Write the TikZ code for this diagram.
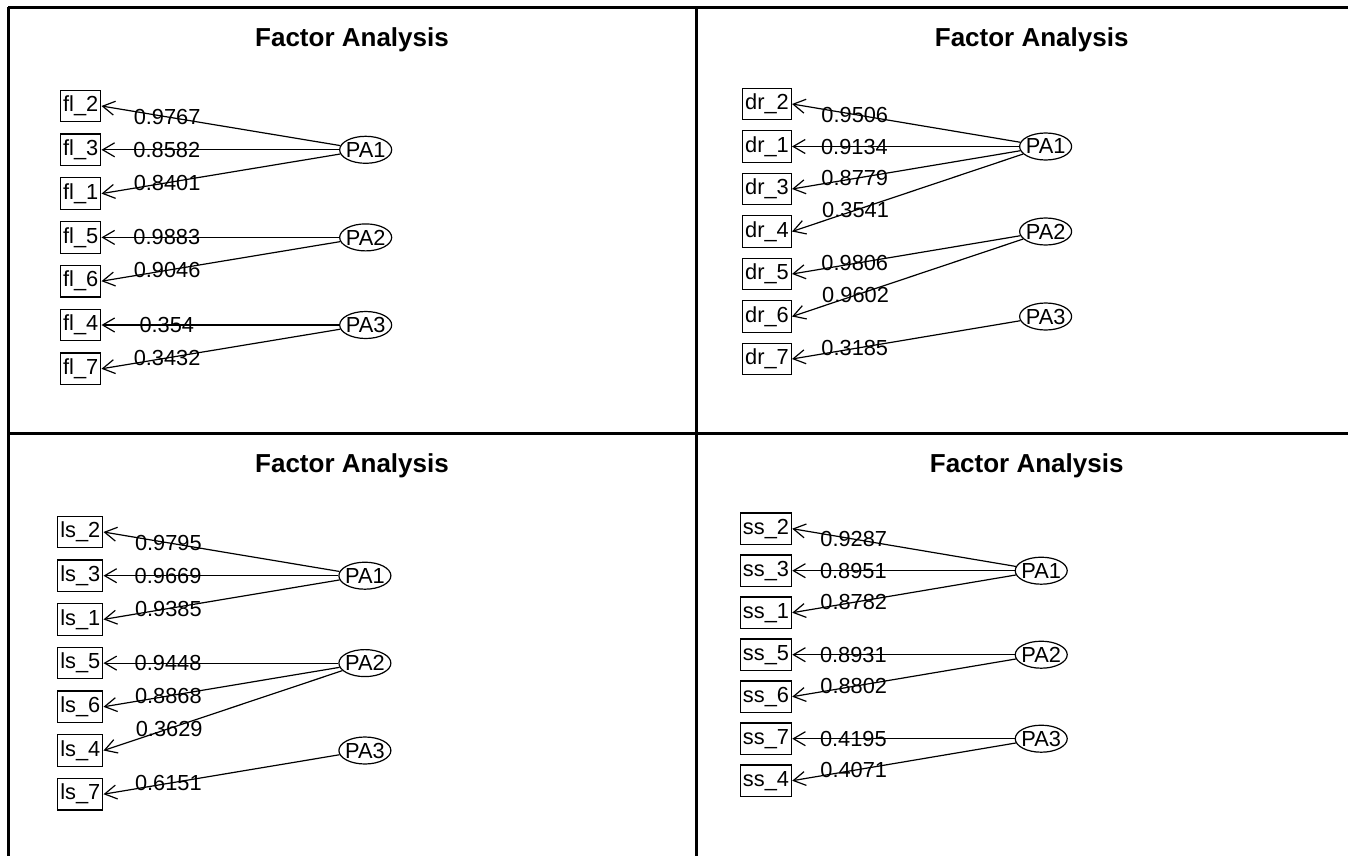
\documentclass[tikz,border=0pt]{standalone}
\usepackage{fontspec}
\setmainfont{Liberation Sans}
\usetikzlibrary{arrows.meta, positioning, shapes.geometric}
% factor labels take no width, so the ellipse keeps its own size
\newcommand{\fac}[1]{\makebox[0pt]{#1}}

\begin{document}
\begin{tikzpicture}[
  x=0.5pt, y=-0.5pt,
  font=\fontsize{10.9}{13}\selectfont,
  >={Straight Barb[length=6pt, width=7pt]},
  obs/.style={draw, line width=0.6pt, inner xsep=1.3pt, inner ysep=0pt,
              minimum height=15.75pt},
  lat/.style={ellipse, draw, line width=0.6pt, inner sep=0pt,
              minimum width=26pt, minimum height=13.5pt},
  ttl/.style={anchor=base, font=\fontsize{13}{15}\selectfont\bfseries},
  load/.style={->, line width=0.6pt},
  wt/.style={pos=.725, inner sep=0pt},
  rule/.style={line width=1.4pt}
]
\useasboundingbox (0,0) rectangle (1348,856);

% Table rules
\draw[rule] (8.3,7.3) -- (1348,7.3);
\draw[rule] (8.3,7.3) -- (8.3,856);
\draw[rule] (696.5,7.3) -- (696.5,856);
\draw[rule] (8.3,433.3) -- (1348,433.3);

% Panel: fl items
\node[ttl] (ttlfl) at (352,47) {Factor Analysis};
\node[obs] (fl2) at (80.7,106) {fl\_2};
\node[obs, below=5.55pt of fl2] (fl3) {fl\_3};
\node[obs, below=5.55pt of fl3] (fl1) {fl\_1};
\node[obs, below=5.55pt of fl1] (fl5) {fl\_5};
\node[obs, below=5.55pt of fl5] (fl6) {fl\_6};
\node[obs, below=5.55pt of fl6] (fl4) {fl\_4};
\node[obs, below=5.55pt of fl4] (fl7) {fl\_7};
\node[lat, right=118.8pt of fl3] (flpa1) {\fac{PA1}};
\node[lat, right=118.8pt of fl5] (flpa2) {\fac{PA2}};
\node[lat, right=118.8pt of fl4] (flpa3) {\fac{PA3}};
\draw[load] (flpa1) -- node[wt] {0.9767} (fl2.east);
\draw[load] (flpa1) -- node[wt] {0.8582} (fl3.east);
\draw[load] (flpa1) -- node[wt] {0.8401} (fl1.east);
\draw[load] (flpa2) -- node[wt] {0.9883} (fl5.east);
\draw[load] (flpa2) -- node[wt] {0.9046} (fl6.east);
\draw[load] (flpa3) -- node[wt] {0.354} (fl4.east);
\draw[load] (flpa3) -- node[wt] {0.3432} (fl7.east);

% Panel: dr items
\node[ttl] (ttldr) at (1031.7,47) {Factor Analysis};
\node[obs] (dr2) at (767,104) {dr\_2};
\node[obs, below=4.9pt of dr2] (dr1) {dr\_1};
\node[obs, below=4.9pt of dr1] (dr3) {dr\_3};
\node[obs, below=4.9pt of dr3] (dr4) {dr\_4};
\node[obs, below=4.9pt of dr4] (dr5) {dr\_5};
\node[obs, below=4.9pt of dr5] (dr6) {dr\_6};
\node[obs, below=4.9pt of dr6] (dr7) {dr\_7};
\node[lat, right=113.5pt of dr1] (drpa1) {\fac{PA1}};
\node[lat, right=113.5pt of dr4] (drpa2) {\fac{PA2}};
\node[lat, right=113.5pt of dr6] (drpa3) {\fac{PA3}};
\draw[load] (drpa1) -- node[wt] {0.9506} (dr2.east);
\draw[load] (drpa1) -- node[wt] {0.9134} (dr1.east);
\draw[load] (drpa1) -- node[wt] {0.8779} (dr3.east);
\draw[load] (drpa1) -- node[wt] {0.3541} (dr4.east);
\draw[load] (drpa2) -- node[wt] {0.9806} (dr5.east);
\draw[load] (drpa2) -- node[wt] {0.9602} (dr6.east);
\draw[load] (drpa3) -- node[wt] {0.3185} (dr7.east);

% Panel: ls items
\node[ttl] (ttlls) at (352,472) {Factor Analysis};
\node[obs] (ls2) at (80.3,532) {ls\_2};
\node[obs, below=5.5pt of ls2] (ls3) {ls\_3};
\node[obs, below=5.5pt of ls3] (ls1) {ls\_1};
\node[obs, below=5.5pt of ls1] (ls5) {ls\_5};
\node[obs, below=5.5pt of ls5] (ls6) {ls\_6};
\node[obs, below=5.5pt of ls6] (ls4) {ls\_4};
\node[obs, below=5.5pt of ls4] (ls7) {ls\_7};
\node[lat, right=117.4pt of ls3] (lspa1) {\fac{PA1}};
\node[lat, right=117.4pt of ls5] (lspa2) {\fac{PA2}};
\node[lat, right=117.4pt of ls4] (lspa3) {\fac{PA3}};
\draw[load] (lspa1) -- node[wt] {0.9795} (ls2.east);
\draw[load] (lspa1) -- node[wt] {0.9669} (ls3.east);
\draw[load] (lspa1) -- node[wt] {0.9385} (ls1.east);
\draw[load] (lspa2) -- node[wt] {0.9448} (ls5.east);
\draw[load] (lspa2) -- node[wt] {0.8868} (ls6.east);
\draw[load] (lspa2) -- node[wt] {0.3629} (ls4.east);
\draw[load] (lspa3) -- node[wt] {0.6151} (ls7.east);

% Panel: ss items
\node[ttl] (ttlss) at (1026.7,472) {Factor Analysis};
\node[obs] (ss2) at (766,528.7) {ss\_2};
\node[obs, below=4.65pt of ss2] (ss3) {ss\_3};
\node[obs, below=4.65pt of ss3] (ss1) {ss\_1};
\node[obs, below=4.65pt of ss1] (ss5) {ss\_5};
\node[obs, below=4.65pt of ss5] (ss6) {ss\_6};
\node[obs, below=4.65pt of ss6] (ss7) {ss\_7};
\node[obs, below=4.65pt of ss7] (ss4) {ss\_4};
\node[lat, right=111.2pt of ss3] (sspa1) {\fac{PA1}};
\node[lat, right=111.2pt of ss5] (sspa2) {\fac{PA2}};
\node[lat, right=111.2pt of ss7] (sspa3) {\fac{PA3}};
\draw[load] (sspa1) -- node[wt] {0.9287} (ss2.east);
\draw[load] (sspa1) -- node[wt] {0.8951} (ss3.east);
\draw[load] (sspa1) -- node[wt] {0.8782} (ss1.east);
\draw[load] (sspa2) -- node[wt] {0.8931} (ss5.east);
\draw[load] (sspa2) -- node[wt] {0.8802} (ss6.east);
\draw[load] (sspa3) -- node[wt] {0.4195} (ss7.east);
\draw[load] (sspa3) -- node[wt] {0.4071} (ss4.east);

\end{tikzpicture}
\end{document}
